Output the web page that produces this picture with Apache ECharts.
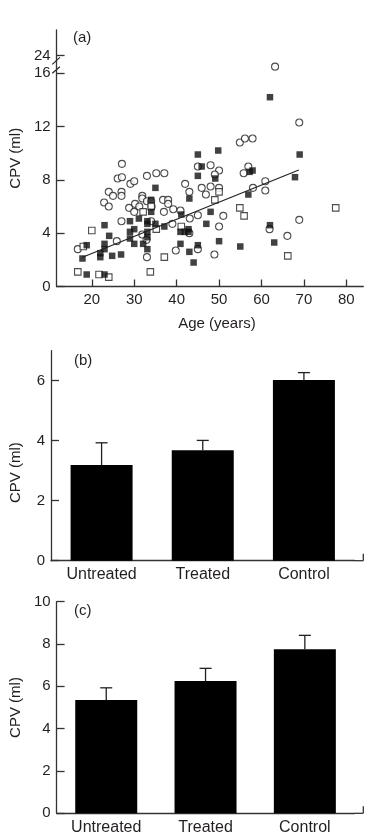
<!DOCTYPE html>
<html><head><meta charset="utf-8">
<script src="https://cdn.jsdelivr.net/npm/echarts@6/dist/echarts.min.js"></script>
<style>html,body{margin:0;padding:0;background:#fff}#c{width:389px;height:840px}</style>
</head><body><div id="c"></div>
<script>
// ---------- Panel (a): CPV vs age ----------
const openCircles = [
  [16.7,2.8],[27.1,9.2],[24.0,7.1],[25.0,6.8],[22.9,6.3],[24.0,6.0],[26.1,8.1],[27.1,8.2],
  [27.0,7.1],[27.0,6.8],[29.1,7.7],[30.0,7.9],[33.0,8.3],[35.2,8.5],[37.1,8.5],[27.0,4.9],
  [25.9,3.4],[28.8,5.9],[30.0,5.6],[30.2,6.2],[31.2,6.0],[31.9,6.8],[31.9,6.6],[33.0,6.4],
  [34.0,6.4],[34.1,6.0],[36.8,6.5],[38.0,6.5],[38.0,6.2],[37.0,5.6],[39.2,5.8],[31.9,3.9],
  [32.9,3.5],[33.0,2.2],[34.0,4.9],[39.8,2.7],[39.0,4.7],[40.9,5.7],[42.0,7.7],[43.0,7.1],
  [43.0,4.0],[45.0,5.35],[45.0,2.8],[45.0,9.0],[45.9,7.4],[48.0,9.1],[50.0,8.7],[49.0,8.4],
  [56.9,9.0],[55.8,8.5],[46.9,6.9],[48.0,7.5],[50.0,7.4],[58.0,7.4],[60.9,7.9],[60.9,7.2],
  [43.1,5.1],[51.0,5.3],[50.0,4.5],[48.9,2.4],[61.9,4.3],[66.1,3.8],[68.9,5.0],[68.9,12.3],
  [54.9,10.8],[56.1,11.1],[57.9,11.1],[63.2,19.0]
];
const filledSquares = [
  [17.8,2.1],[18.8,3.1],[18.8,0.9],[22.0,2.5],[22.0,2.2],[23.0,4.6],[23.0,3.2],[23.0,2.8],
  [23.0,0.9],[24.1,3.8],[24.8,2.3],[26.9,2.4],[29.0,4.9],[29.0,4.1],[29.0,3.6],[30.0,4.3],
  [30.0,3.2],[31.1,5.1],[32.1,3.2],[33.1,4.1],[33.1,3.7],[33.1,2.8],[33.1,4.9],[33.1,4.7],
  [34.0,6.5],[34.0,5.6],[35.0,7.4],[35.0,4.7],[37.1,4.5],[41.1,5.4],[40.9,4.1],[41.9,4.1],
  [42.8,4.1],[42.8,4.3],[40.9,3.2],[43.0,2.6],[43.0,6.6],[44.0,1.8],[45.0,9.9],[45.0,8.3],
  [45.0,3.1],[45.9,9.0],[49.8,10.2],[69.0,9.9],[49.1,8.1],[57.2,8.6],[57.9,8.7],[67.9,8.2],
  [56.9,6.9],[48.0,5.6],[47.0,4.7],[50.0,3.4],[55.0,3.0],[62.0,4.6],[63.0,3.3],[62.0,14.2]
];
const openSquares = [
  [16.7,1.1],[18.0,3.0],[20.0,4.2],[21.7,0.9],[24.0,0.7],[32.1,5.6],[34.0,6.0],[35.2,4.3],
  [33.8,1.1],[37.1,2.2],[41.1,4.5],[54.9,5.9],[55.9,5.3],[77.5,5.9],[66.2,2.3],[49.0,6.5],
  [50.0,7.1]
];
const fitLine = [[17.8,2.19],[68.8,8.74]];
const ageTicks = [20,30,40,50,60,70,80];
const cpvTicksA = [0,4,8,12,16,24];

// ---------- Panels (b) and (c) ----------
const categories = ['Untreated','Treated','Control'];
const meansB = [3.19,3.68,6.02];
const errB   = [0.74,0.33,0.25];
const ticksB = [0,2,4,6];
const meansC = [5.35,6.25,7.75];
const errC   = [0.58,0.60,0.66];
const ticksC = [0,2,4,6,8,10];

// axis break on panel (a): 16..24 compressed
const BREAK_FROM = 16, BREAK_TO = 24, BREAK_LEN = 1.31;
function mapY(v){ return v <= BREAK_FROM ? v : BREAK_FROM + (v - BREAK_FROM) / (BREAK_TO - BREAK_FROM) * BREAK_LEN; }

const INK = '#231f20';
const FONT = '"Liberation Sans", Arial, sans-serif';
const txt = {color: INK, fontFamily: FONT, fontSize: 15};

const chart = echarts.init(document.getElementById('c'), null, {renderer: 'canvas'});

function errSeries(idx, means, errs){
  return {
    type: 'custom', xAxisIndex: idx, yAxisIndex: idx, z: 5, silent: true,
    data: means.map((m, i) => [i, m, m + errs[i]]),
    renderItem(params, api){
      const base = api.coord([api.value(0), api.value(1)]);
      const top = api.coord([api.value(0), api.value(2)]);
      const st = {stroke: INK, lineWidth: 1.3};
      return {type: 'group', children: [
        {type: 'line', shape: {x1: base[0], y1: base[1], x2: top[0], y2: top[1]}, style: st},
        {type: 'line', shape: {x1: top[0] - 6, y1: top[1], x2: top[0] + 6, y2: top[1]}, style: st}
      ]};
    }
  };
}

function barY(idx, ticks, max, namePad){
  return {
    type: 'value', gridIndex: idx, min: 0, max: max,
    name: 'CPV (ml)', nameLocation: 'middle', nameGap: 28, nameRotate: 90,
    nameTextStyle: Object.assign({}, txt, {padding: namePad}),
    splitLine: {show: false},
    axisLine: {show: true, lineStyle: {color: '#333', width: 1.3}},
    axisTick: {show: true, inside: true, length: 8, customValues: ticks, lineStyle: {color: '#333', width: 1.3}},
    axisLabel: Object.assign({}, txt, {margin: 6, customValues: ticks})
  };
}
function barX(idx){
  return {
    type: 'category', gridIndex: idx, data: categories, boundaryGap: true,
    axisLine: {show: true, lineStyle: {color: '#333', width: 1.3}},
    axisTick: {show: false},
    axisLabel: Object.assign({}, txt, {fontSize: 16, margin: 6})
  };
}

const option = {
  animation: false,
  backgroundColor: '#fff',
  textStyle: {fontFamily: FONT},
  title: [
    {text: '(a)', left: 68, top: 25, textStyle: Object.assign({}, txt, {fontWeight: 'normal'})},
    {text: '(b)', left: 69, top: 348, textStyle: Object.assign({}, txt, {fontWeight: 'normal'})},
    {text: '(c)', left: 69, top: 598, textStyle: Object.assign({}, txt, {fontWeight: 'normal'})}
  ],
  grid: [
    {left: 50, top: 30, width: 313.3, height: 256.5},
    {left: 50, top: 350.7, width: 304.5, height: 210},
    {left: 50, top: 601.7, width: 304.5, height: 211.6}
  ],
  xAxis: [
    {
      type: 'value', gridIndex: 0, min: 11.7, max: 84,
      name: 'Age (years)', nameLocation: 'middle', nameGap: 30,
      nameTextStyle: Object.assign({}, txt, {padding: [0, 0, 0, 14]}),
      splitLine: {show: false},
      axisLine: {show: true, lineStyle: {color: '#333', width: 1.3}},
      axisTick: {show: true, inside: true, length: 7, customValues: ageTicks, lineStyle: {color: '#333', width: 1.3}},
      axisLabel: Object.assign({}, txt, {margin: 6, customValues: ageTicks})
    },
    barX(1), barX(2)
  ],
  yAxis: [
    {
      type: 'value', gridIndex: 0, min: 0, max: 19.24,
      name: 'CPV (ml)', nameLocation: 'middle', nameGap: 28, nameRotate: 90,
      nameTextStyle: Object.assign({}, txt),
      splitLine: {show: false},
      axisLine: {show: true, lineStyle: {color: '#333', width: 1.3}},
      axisTick: {show: true, inside: true, length: 8, customValues: cpvTicksA.map(mapY), lineStyle: {color: '#333', width: 1.3}},
      axisLabel: Object.assign({}, txt, {
        margin: 6, customValues: cpvTicksA.map(mapY),
        formatter: v => { const t = cpvTicksA.find(t => Math.abs(mapY(t) - v) < 0.01); return t === undefined ? '' : String(t); }
      })
    },
    barY(1, ticksB, 7, [0, 34, 0, 0]),
    barY(2, ticksC, 10, [0, 0, 0, 0])
  ],
  series: [
    {type: 'scatter', xAxisIndex: 0, yAxisIndex: 0, symbol: 'circle', symbolSize: 7, silent: true,
     itemStyle: {color: '#fff', borderColor: INK, borderWidth: 1.1},
     data: openCircles.map(p => [p[0], mapY(p[1])])},
    {type: 'scatter', xAxisIndex: 0, yAxisIndex: 0, symbol: 'rect', symbolSize: 6.5, silent: true,
     itemStyle: {color: '#fff', borderColor: INK, borderWidth: 1.1},
     data: openSquares.map(p => [p[0], mapY(p[1])])},
    {type: 'scatter', xAxisIndex: 0, yAxisIndex: 0, symbol: 'rect', symbolSize: 6.5, silent: true,
     itemStyle: {color: '#111'},
     data: filledSquares.map(p => [p[0], mapY(p[1])])},
    {type: 'line', xAxisIndex: 0, yAxisIndex: 0, showSymbol: false, silent: true,
     lineStyle: {color: INK, width: 1.2}, data: fitLine},
    {type: 'bar', xAxisIndex: 1, yAxisIndex: 1, barWidth: 62, silent: true,
     itemStyle: {color: '#000'}, data: meansB},
    errSeries(1, meansB, errB),
    {type: 'bar', xAxisIndex: 2, yAxisIndex: 2, barWidth: 62, silent: true,
     itemStyle: {color: '#000'}, data: meansC},
    errSeries(2, meansC, errC)
  ]
};
chart.setOption(option);

// decorations: axis-break slashes and the axis-line extensions with end ticks
function px(gi, xy){ return chart.convertToPixel({gridIndex: gi}, xy); }
const s16 = px(0, [11.7, mapY(16)]), s24 = px(0, [11.7, mapY(24)]);
const ax = s16[0];
const slashStyle = {stroke: INK, lineWidth: 1.2};
const gfx = [
  {type: 'line', shape: {x1: ax - 4.3, y1: s24[1] + 8.6, x2: ax + 3.3, y2: s24[1] + 1.6}, style: slashStyle},
  {type: 'line', shape: {x1: ax - 4.3, y1: s16[1] + 0.1, x2: ax + 3.3, y2: s16[1] - 6.5}, style: slashStyle}
];
[1, 2].forEach(gi => {
  const r = chart.getModel().getComponent('grid', gi).coordinateSystem.getRect();
  const y0 = r.y + r.height, xr = r.x + r.width, xe = 363.3;
  gfx.push({type: 'line', shape: {x1: xr, y1: y0, x2: xe, y2: y0}, style: {stroke: '#333', lineWidth: 1.3}});
  gfx.push({type: 'line', shape: {x1: xe, y1: y0, x2: xe, y2: y0 - 7}, style: {stroke: '#333', lineWidth: 1.3}});
});
chart.setOption({graphic: gfx});
</script>
</body></html>
